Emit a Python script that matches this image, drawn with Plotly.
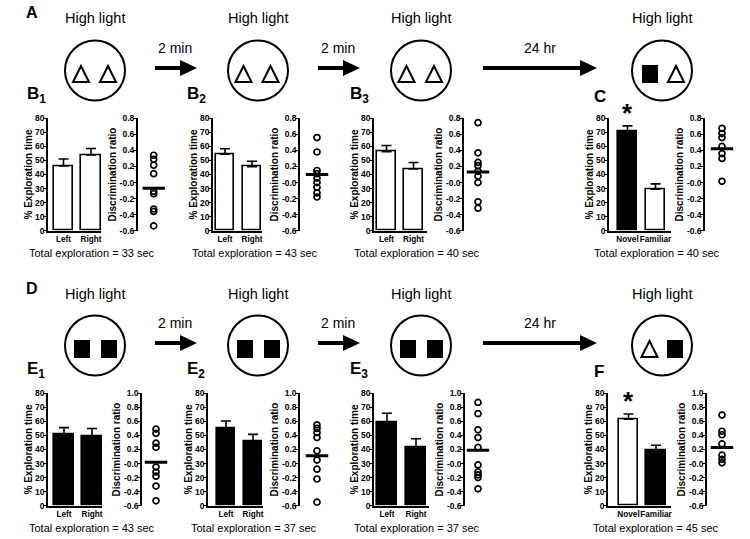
import plotly.graph_objects as go

# ---------------- data ----------------
cats_lr = ["Left", "Right"]
cats_nf = ["Novel", "Familiar"]

b1_pct = [46, 54]
b1_sem = [5.0, 4.5]
b1_ratio = [0.34, 0.29, 0.215, 0.11, -0.11, -0.14, -0.33, -0.36, -0.54]
b1_ratio_mean = -0.07

b2_pct = [54.5, 45.6]
b2_sem = [3.8, 3.8]
b2_ratio = [0.56, 0.38, 0.15, 0.11, 0.055, 0.0, -0.06, -0.13, -0.18]
b2_ratio_mean = 0.10

b3_pct = [56.3, 44.0]
b3_sem = [4.3, 4.5]
b3_ratio = [0.745, 0.37, 0.25, 0.21, 0.14, 0.08, -0.0, -0.24, -0.32]
b3_ratio_mean = 0.13

c_pct = [70.5, 29.5]
c_sem = [4.1, 3.8]
c_ratio = [0.675, 0.61, 0.56, 0.45, 0.36, 0.30, 0.015]
c_ratio_mean = 0.42

e1_pct = [50.8, 49.6]
e1_sem = [4.8, 5.3]
e1_ratio = [0.49, 0.43, 0.29, 0.23, -0.05, -0.12, -0.18, -0.32, -0.53]
e1_ratio_mean = 0.02

e2_pct = [55.0, 45.6]
e2_sem = [5.3, 5.2]
e2_ratio = [0.55, 0.50, 0.44, 0.37, 0.18, 0.05, -0.08, -0.22, -0.55]
e2_ratio_mean = 0.11

e3_pct = [59.4, 41.6]
e3_sem = [6.4, 6.1]
e3_ratio = [0.87, 0.71, 0.48, 0.37, 0.23, -0.02, -0.12, -0.16, -0.20, -0.36]
e3_ratio_mean = 0.19

f_pct = [61.5, 39.2]
f_sem = [3.8, 3.8]
f_ratio = [0.69, 0.46, 0.41, 0.28, 0.12, 0.06, 0.01]
f_ratio_mean = 0.23

total_exploration = [33, 43, 40, 40, 43, 37, 37, 45]

pct_ticks = [0, 10, 20, 30, 40, 50, 60, 70, 80]
ratio_ticks_top = [-0.6, -0.4, -0.2, 0.0, 0.2, 0.4, 0.6, 0.8]
ratio_labels_top = ["-0.6", "-0.4", "-0.2", "-0.0", "0.2", "0.4", "0.6", "0.8"]
ratio_ticks_bot = [-0.6, -0.4, -0.2, 0.0, 0.2, 0.4, 0.6, 0.8, 1.0]
ratio_labels_bot = ["-0.6", "-0.4", "-0.2", "-0.0", "0.2", "0.4", "0.6", "0.8", "1.0"]

# ---------------- layout helpers ----------------
W, H = 750, 539
FONT = "Liberation Sans, Arial, sans-serif"


def X(p):
    return p / W


def Y(p):
    return 1 - p / H


WHITE, BLACK = "white", "black"

panels = [
    dict(lab="B", sub="1", cats=cats_lr, pct=b1_pct, sem=b1_sem, ratio=b1_ratio, mean=b1_ratio_mean,
         fills=[WHITE, WHITE], row=0, bar=(48, 101, 63.5, 27.5), sc=(137.7, 16), lx=25, tx=92, star=None),
    dict(lab="B", sub="2", cats=cats_lr, pct=b2_pct, sem=b2_sem, ratio=b2_ratio, mean=b2_ratio_mean,
         fills=[WHITE, WHITE], row=0, bar=(213, 262, 225, 27), sc=(300, 17), lx=185, tx=255, star=None),
    dict(lab="B", sub="3", cats=cats_lr, pct=b3_pct, sem=b3_sem, ratio=b3_ratio, mean=b3_ratio_mean,
         fills=[WHITE, WHITE], row=0, bar=(374, 427, 386.5, 27), sc=(464, 14), lx=348, tx=417, star=None),
    dict(lab="C", sub="", cats=cats_nf, pct=c_pct, sem=c_sem, ratio=c_ratio, mean=c_ratio_mean,
         fills=[BLACK, WHITE], row=0, bar=(609, 671, 627.5, 28), sc=(705, 17), lx=592, tx=657, star=113),
    dict(lab="E", sub="1", cats=cats_lr, pct=e1_pct, sem=e1_sem, ratio=e1_ratio, mean=e1_ratio_mean,
         fills=[BLACK, BLACK], row=1, bar=(48, 102, 64, 28), sc=(142, 14), lx=25, tx=92, star=None),
    dict(lab="E", sub="2", cats=cats_lr, pct=e2_pct, sem=e2_sem, ratio=e2_ratio, mean=e2_ratio_mean,
         fills=[BLACK, BLACK], row=1, bar=(208, 263, 226, 27), sc=(300, 17), lx=185, tx=254, star=None),
    dict(lab="E", sub="3", cats=cats_lr, pct=e3_pct, sem=e3_sem, ratio=e3_ratio, mean=e3_ratio_mean,
         fills=[BLACK, BLACK], row=1, bar=(374, 429, 387, 29), sc=(465, 13), lx=348, tx=417, star=None),
    dict(lab="F", sub="", cats=cats_nf, pct=f_pct, sem=f_sem, ratio=f_ratio, mean=f_ratio_mean,
         fills=[WHITE, BLACK], row=1, bar=(608, 671, 628.5, 27.5), sc=(707, 15), lx=592, tx=656, star=401),
]

ROWS = [
    dict(ytop=118.3, ybot=230.7, lab_y=96, tot_y=253,
         rticks=ratio_ticks_top, rlabels=ratio_labels_top, rrange=[-0.6, 0.8]),
    dict(ytop=393.3, ybot=505.7, lab_y=371, tot_y=528,
         rticks=ratio_ticks_bot, rlabels=ratio_labels_bot, rrange=[-0.6, 1.0]),
]

fig = go.Figure()
layout = {}
annotations = []
shapes = []

tick_font = dict(family=FONT, size=8.5, color="black", weight="bold")
title_font = dict(family=FONT, size=10, color="black", weight="bold")

for i, p in enumerate(panels):
    r = ROWS[p["row"]]
    ib = 2 * i + 1
    isc = 2 * i + 2
    xb = "x" if ib == 1 else f"x{ib}"
    yb = "y" if ib == 1 else f"y{ib}"
    xs, ys = f"x{isc}", f"y{isc}"
    ax_x, end_x, c0, sp = p["bar"]
    sc_x, off = p["sc"]
    ydom = [Y(r["ybot"]), Y(r["ytop"])]

    fig.add_trace(go.Bar(
        x=p["cats"], y=p["pct"], width=0.7,
        marker=dict(color=p["fills"], line=dict(color="black", width=1.6)),
        error_y=dict(type="data", symmetric=False, array=p["sem"], arrayminus=[0, 0],
                     color="black", thickness=1.6, width=5),
        xaxis=xb, yaxis=yb, showlegend=False,
    ))
    fig.add_trace(go.Scatter(
        x=[0] * len(p["ratio"]), y=p["ratio"], mode="markers",
        marker=dict(symbol="circle-open", size=6, color="black", line=dict(width=1.7, color="black")),
        xaxis=xs, yaxis=ys, showlegend=False,
    ))
    fig.add_trace(go.Scatter(
        x=[0], y=[p["mean"]], mode="markers",
        marker=dict(symbol="line-ew", size=16, color="black", line=dict(width=3, color="black")),
        xaxis=xs, yaxis=ys, showlegend=False,
    ))

    layout["xaxis" if ib == 1 else f"xaxis{ib}"] = dict(
        domain=[X(ax_x), X(end_x)], anchor=yb, type="category",
        range=[(ax_x - c0) / sp, (end_x - c0) / sp], tickangle=0,
        showline=True, linecolor="black", linewidth=1.5, ticks="", showgrid=False,
        zeroline=False, tickfont=dict(family=FONT, size=8.2, color="black", weight="bold"),
        fixedrange=True,
    )
    layout["yaxis" if ib == 1 else f"yaxis{ib}"] = dict(
        domain=ydom, anchor=xb, range=[0, 80], tickvals=pct_ticks,
        ticks="outside", ticklen=3, tickwidth=1.2, tickcolor="black", ticklabelstandoff=-3,
        showline=True, linecolor="black", linewidth=1.5, showgrid=False, zeroline=False,
        tickfont=tick_font,
        title=dict(text="% Exploration time", font=title_font, standoff=1),
        fixedrange=True,
    )
    layout[f"xaxis{isc}"] = dict(
        domain=[X(sc_x), X(sc_x + 2 * off)], anchor=ys, range=[-1, 1], visible=False,
        fixedrange=True,
    )
    layout[f"yaxis{isc}"] = dict(
        domain=ydom, anchor=xs, range=r["rrange"], tickvals=r["rticks"], ticktext=r["rlabels"],
        ticks="outside", ticklen=3, tickwidth=1.2, tickcolor="black", ticklabelstandoff=-3,
        showline=True, linecolor="black", linewidth=1.5, showgrid=False, zeroline=False,
        tickfont=tick_font,
        title=dict(text="Discrimination ratio", font=title_font, standoff=1),
        fixedrange=True,
    )

    lab = f"<b>{p['lab']}</b>" + (f"<b><sub>{p['sub']}</sub></b>" if p["sub"] else "")
    ly = r["lab_y"] - (1 if p["sub"] else 0)
    annotations.append(dict(text=lab, x=X(p["lx"]), y=Y(ly), xref="paper", yref="paper",
                            xanchor="left", yanchor="middle", showarrow=False,
                            font=dict(family=FONT, size=17, color="black")))
    annotations.append(dict(text=f"Total exploration = {total_exploration[i]} sec",
                            x=X(p["tx"]), y=Y(r["tot_y"]), xref="paper", yref="paper",
                            xanchor="center", yanchor="middle", showarrow=False,
                            font=dict(family=FONT, size=11, color="black")))
    if p["star"] is not None:
        annotations.append(dict(text="<b>*</b>", x=X(c0), y=Y(p["star"]), xref="paper", yref="paper",
                                xanchor="center", yanchor="middle", showarrow=False,
                                font=dict(family=FONT, size=26, color="black")))

# ---------------- schematic ----------------
SHIFT = 275
SCHEM = [
    dict(lab="A", dy=0, objs=[[("t", -14), ("t", 13)], [("t", -14.5), ("t", 12.5)],
                              [("t", -14.5), ("t", 13)], [("s", -12), ("t", 14)]]),
    dict(lab="D", dy=SHIFT, objs=[[("s", -13), ("s", 14)], [("s", -13), ("s", 14)],
                                  [("s", -13), ("s", 14)], [("t", -12.5), ("s", 13)]]),
]
circle_x = [95, 258, 421, 662]
arrows = [(155, 197, "2 min", 175), (318, 360, "2 min", 337.5), (483, 597, "24 hr", 540)]
R = 30
LAB_Y, HL_Y, CY, OBJ_CY, ARROW_Y, TXT_Y = 13, 18.5, 70.5, 74, 68, 48

for s in SCHEM:
    d = s["dy"]
    annotations.append(dict(text="<b>" + s["lab"] + "</b>", x=X(24), y=Y(LAB_Y + d), xref="paper", yref="paper",
                            xanchor="left", yanchor="middle", showarrow=False,
                            font=dict(family=FONT, size=16, color="black")))
    for k, cx in enumerate(circle_x):
        annotations.append(dict(text="High light", x=X(cx), y=Y(HL_Y + d), xref="paper", yref="paper",
                                xanchor="center", yanchor="middle", showarrow=False,
                                font=dict(family=FONT, size=14.5, color="black")))
        shapes.append(dict(type="circle", xref="paper", yref="paper",
                           x0=X(cx - R), x1=X(cx + R), y0=Y(CY + d + R), y1=Y(CY + d - R),
                           line=dict(color="black", width=2)))
        for kind, dx in s["objs"][k]:
            ox = cx + dx
            oy = OBJ_CY + d
            if kind == "t":
                path = (f"M {X(ox - 8)},{Y(oy + 8)} L {X(ox)},{Y(oy - 8)} "
                        f"L {X(ox + 8)},{Y(oy + 8)} Z")
                shapes.append(dict(type="path", xref="paper", yref="paper", path=path,
                                   line=dict(color="black", width=2), fillcolor="white"))
            else:
                shapes.append(dict(type="rect", xref="paper", yref="paper",
                                   x0=X(ox - 8), x1=X(ox + 8), y0=Y(oy + 9), y1=Y(oy - 9),
                                   line=dict(color="black", width=0), fillcolor="black"))
    for (xa, xb_, txt, tx) in arrows:
        ay = ARROW_Y + d
        shapes.append(dict(type="line", xref="paper", yref="paper", x0=X(xa), x1=X(xb_ - 15),
                           y0=Y(ay), y1=Y(ay), line=dict(color="black", width=4)))
        path = f"M {X(xb_ - 17)},{Y(ay - 8)} L {X(xb_)},{Y(ay)} L {X(xb_ - 17)},{Y(ay + 8)} Z"
        shapes.append(dict(type="path", xref="paper", yref="paper", path=path,
                           line=dict(color="black", width=0), fillcolor="black"))
        annotations.append(dict(text=txt, x=X(tx), y=Y(TXT_Y + d), xref="paper", yref="paper",
                                xanchor="center", yanchor="middle", showarrow=False,
                                font=dict(family=FONT, size=14, color="black")))

fig.update_layout(
    width=W, height=H, margin=dict(l=0, r=0, t=0, b=0, autoexpand=False),
    paper_bgcolor="white", plot_bgcolor="rgba(0,0,0,0)",
    font=dict(family=FONT, color="black"),
    annotations=annotations, shapes=shapes, showlegend=False, bargap=0,
    **layout,
)

fig.write_html("out.html", config={"displayModeBar": False},
               post_script="document.body.style.margin='0';document.body.style.overflow='hidden';")
